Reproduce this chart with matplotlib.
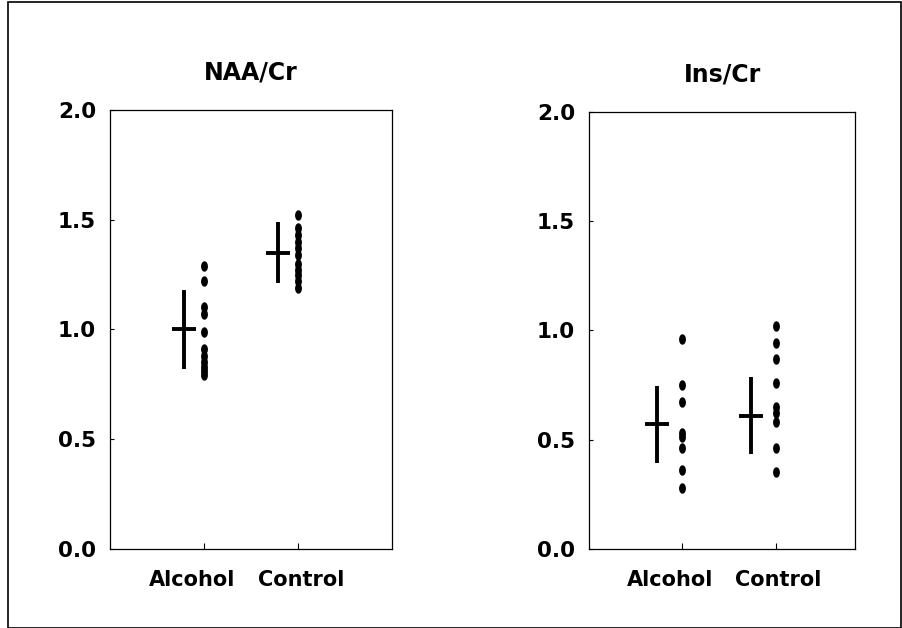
import numpy as np
import matplotlib
matplotlib.use("Agg")
import matplotlib.pyplot as plt
from matplotlib.path import Path
from matplotlib.patches import Rectangle

plt.rcParams['font.family'] = ['DejaVu Sans']
plt.rcParams['font.weight'] = 'bold'

groups = ["Alcohol", "Control"]

# NAA/Cr individual values
naa_alcohol = [1.29, 1.22, 1.10, 1.07, 0.99, 0.91, 0.88, 0.85, 0.83, 0.81, 0.79]
naa_control = [1.52, 1.46, 1.43, 1.40, 1.37, 1.34, 1.30, 1.27, 1.25, 1.22, 1.19]
naa_mean = [1.00, 1.35]
naa_sd = [0.18, 0.14]

# Ins/Cr individual values
ins_alcohol = [0.96, 0.75, 0.67, 0.53, 0.51, 0.46, 0.36, 0.28]
ins_control = [1.02, 0.94, 0.87, 0.76, 0.65, 0.62, 0.58, 0.46, 0.35]
ins_mean = [0.57, 0.61]
ins_sd = [0.175, 0.175]

titles = ["NAA/Cr", "Ins/Cr"]
yticks = [0.0, 0.5, 1.0, 1.5, 2.0]

# vertically elongated dot marker
t = np.linspace(0, 2 * np.pi, 40)
dot = Path(np.column_stack([0.6 * np.cos(t), np.sin(t)]), closed=True)

fig = plt.figure(figsize=(9.02, 6.28), dpi=100)
fig.patches.append(Rectangle((0.009, 0.0), 0.99, 0.997, transform=fig.transFigure,
                             fill=False, edgecolor='black', linewidth=1.2))

panels = [
    ([0.122, 0.126, 0.313, 0.699], naa_alcohol, naa_control, naa_mean, naa_sd, (0, 3.0), -0.21),
    ([0.653, 0.126, 0.295, 0.696], ins_alcohol, ins_control, ins_mean, ins_sd, (0, 2.85), -0.27),
]

for i, (rect, alc, con, mean, sd, xlim, off) in enumerate(panels):
    ax = fig.add_axes(rect)
    for x, vals in zip([1, 2], [alc, con]):
        ax.plot([x] * len(vals), vals, linestyle='none', marker=dot,
                markersize=6.5, color='black')
    ax.errorbar(np.array([1, 2]) + off, mean, yerr=sd, fmt='none',
                ecolor='black', elinewidth=2.8, capsize=0)
    ax.plot(np.array([1, 2]) + off, mean, linestyle='none', marker='_',
            markersize=17, markeredgewidth=2.8, color='black')
    ax.set_xlim(*xlim)
    ax.set_ylim(0, 2.0)
    ax.set_yticks(yticks)
    ax.set_yticklabels([f"{v:.1f}" for v in yticks], fontsize=15.5, fontweight='bold')
    # ticks at the groups, labels set slightly apart as in the original
    ax.set_xticks([1, 2])
    ax.set_xticklabels([])
    ax.set_xticks([0.87, 2.03], minor=True)
    ax.set_xticklabels(groups, minor=True, fontsize=15, fontweight='bold')
    ax.tick_params(axis='y', direction='in', length=3, width=0.8, pad=10)
    ax.tick_params(axis='x', which='major', direction='in', length=4, width=0.8)
    ax.tick_params(axis='x', which='minor', length=0, pad=15)
    for s in ax.spines.values():
        s.set_linewidth(0.9)
    ax.set_title(titles[i], fontsize=17, fontweight='bold', pad=22)

fig.savefig("out.png", dpi=100)
